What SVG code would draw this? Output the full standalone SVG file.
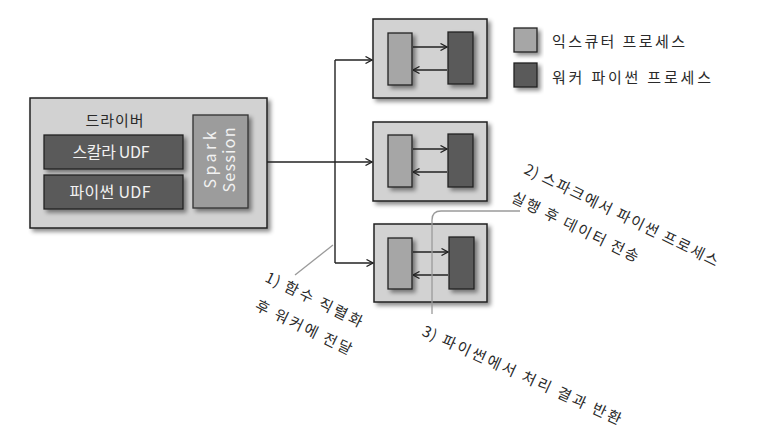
<svg xmlns="http://www.w3.org/2000/svg" width="763" height="445" viewBox="0 0 763 445">
<defs>
<filter id="sh" x="-20%" y="-20%" width="150%" height="150%">
<feDropShadow dx="3" dy="3" stdDeviation="2" flood-color="#000" flood-opacity="0.45"/>
</filter>
<marker id="ar" viewBox="0 0 8 8" refX="7.5" refY="4" markerWidth="8" markerHeight="8" markerUnits="userSpaceOnUse" orient="auto">
<path d="M1,0.5 L7.5,4 L1,7.5" fill="none" stroke="#222" stroke-width="1.3"/>
</marker>
</defs>
<style>
.outer{fill:#d2d2d2;stroke:#222;stroke-width:1.5;filter:url(#sh)}
.light{fill:#a6a6a6;stroke:#222;stroke-width:1.3;filter:url(#sh)}
.dark{fill:#5a5a5a;stroke:#222;stroke-width:1.3;filter:url(#sh)}
.con{fill:none;stroke:#222;stroke-width:1.4;marker-end:url(#ar)}
.note{fill:none;stroke:#9a9a9a;stroke-width:1.3}
.t{font-family:"Noto Sans CJK KR","Noto Sans",sans-serif;font-size:15px;fill:#2a2a2a}
.w{font-family:"Noto Sans CJK KR","Noto Sans",sans-serif;font-size:16px;fill:#f2f2f2}
</style>
<rect width="763" height="445" fill="#fff"/>

<g id="driver">
<rect class="outer" x="30" y="98" width="237" height="130"/>
<text class="t" x="115" y="126" text-anchor="middle" letter-spacing="1">드라이버</text>
</g>
<g id="scala-udf">
<rect class="dark" x="44" y="135" width="139" height="34"/>
<text class="w" x="111" y="158" text-anchor="middle" textLength="77">스칼라 UDF</text>
</g>
<g id="python-udf">
<rect class="dark" x="44" y="175" width="139" height="34"/>
<text class="w" x="110" y="198" text-anchor="middle" textLength="81">파이썬 UDF</text>
</g>
<g id="spark-session">
<rect x="193" y="115" width="55" height="93" fill="#9c9c9c" stroke="#333" stroke-width="1.3" filter="url(#sh)"/>
<text class="w" transform="translate(216,160) rotate(-90)" text-anchor="middle" textLength="57">Spark</text>
<text class="w" transform="translate(235,160) rotate(-90)" text-anchor="middle" textLength="65">Session</text>
</g>

<g id="executor1">
<rect class="outer" x="373" y="19" width="114" height="79"/>
<rect class="light" x="388" y="33" width="24" height="52"/>
<rect class="dark" x="448" y="32" width="25" height="52"/>
<path class="con" d="M413,47 L447,47"/>
<path class="con" d="M447,70 L413,70"/>
</g>
<g id="executor2">
<rect class="outer" x="373" y="122" width="114" height="79"/>
<rect class="light" x="388" y="135" width="24" height="52"/>
<rect class="dark" x="448" y="134" width="25" height="53"/>
<path class="con" d="M413,149 L447,149"/>
<path class="con" d="M447,172 L413,172"/>
</g>
<g id="executor3">
<rect class="outer" x="374" y="224" width="113" height="78"/>
<rect class="light" x="388" y="238" width="24" height="51"/>
<rect class="dark" x="449" y="237" width="25" height="52"/>
<path class="con" d="M413,252 L448,252"/>
<path class="con" d="M448,275 L413,275"/>
</g>

<g id="legend">
<rect class="light" x="514" y="28" width="23" height="24"/>
<text class="t" x="552" y="47" font-size="16" textLength="133">익스큐터 프로세스</text>
<rect class="dark" x="514" y="63" width="23" height="24"/>
<text class="t" x="552" y="83" font-size="16" textLength="159">워커 파이썬 프로세스</text>
</g>

<g id="connectors">
<path class="con" d="M267,162 L372,162"/>
<path fill="none" stroke="#222" stroke-width="1.4" d="M335,60 L335,263"/>
<path class="con" d="M335,60 L372,60"/>
<path class="con" d="M335,263 L373,263"/>
</g>

<g id="annotations">
<path class="note" d="M333,245 L295,275"/>
<path class="note" d="M520,211 L441,211 Q432,211 432,220 L432,314"/>
<text class="t" rotate="26" x="264 272.8 278.7 283.1 298.0 312.8 317.2 332.0 346.9" y="281 285.3 288.2 290.3 297.6 304.8 307.0 314.2 321.4">1) 함수 직렬화</text>
<text class="t" rotate="26" x="254 268.7 273.1 287.8 302.4 317.1 321.6 336.2" y="309 316.1 318.3 325.5 332.6 339.8 342.0 349.1">후 워커에 전달</text>
<text class="t" rotate="26" x="523.0 531.3 536.7 540.7 554.7 568.7 582.8 596.8 610.8 614.9 628.9 642.9 656.9 661.0 675.0 689.0 703.0" y="173.0 177.0 179.7 181.6 188.5 195.3 202.2 209.0 215.8 217.8 224.6 231.5 238.3 240.3 247.1 254.0 260.8">2) 스파크에서 파이썬 프로세스</text>
<text class="t" rotate="26" x="510.0 524.4 538.8 543.0 557.4 561.6 576.0 590.4 604.7 609.0 623.3" y="201.0 208.0 215.0 217.1 224.1 226.2 233.2 240.2 247.2 249.3 256.3">실행 후 데이터 전송</text>
<text class="t" rotate="24.5" x="421.0 429.6 435.6 440.6 455.6 470.6 485.6 500.6 515.6 520.6 535.7 550.7 555.7 570.7 585.7 590.7 605.7" y="335.0 338.9 341.6 343.9 350.8 357.6 364.4 371.3 378.1 380.4 387.3 394.1 396.4 403.2 410.1 412.3 419.2">3) 파이썬에서 처리 결과 반환</text>
</g>
</svg>
